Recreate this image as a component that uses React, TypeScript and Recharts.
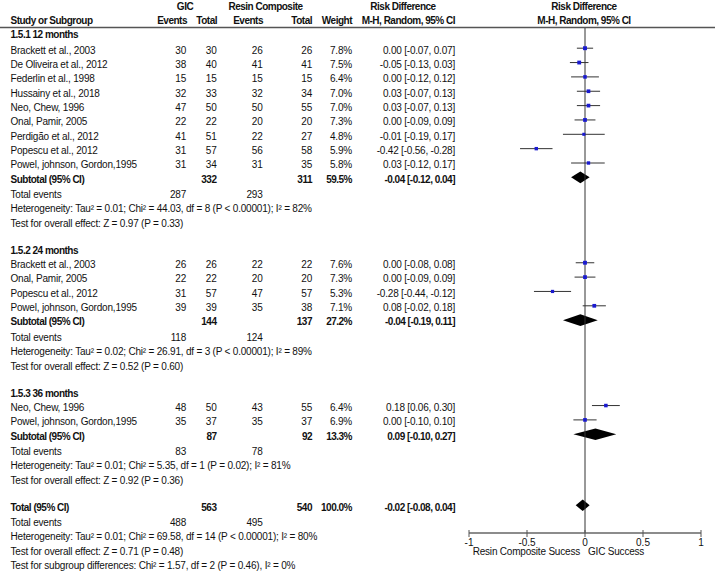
import React from "react";
import {
  ScatterChart,
  Scatter,
  XAxis,
  YAxis,
  ReferenceLine,
  ReferenceArea,
  Customized,
} from "recharts";

// study rows
const studyNames = [
  "Brackett et al., 2003",
  "De Oliveira et al., 2012",
  "Federlin et al., 1998",
  "Hussainy et al., 2018",
  "Neo, Chew, 1996",
  "Onal, Pamir, 2005",
  "Perdigão et al., 2012",
  "Popescu et al., 2012",
  "Powel, johnson, Gordon,1995",
  "Brackett et al., 2003",
  "Onal, Pamir, 2005",
  "Popescu et al., 2012",
  "Powel, johnson, Gordon,1995",
  "Neo, Chew, 1996",
  "Powel, johnson, Gordon,1995",
];
const studyGroup = [0, 0, 0, 0, 0, 0, 0, 0, 0, 1, 1, 1, 1, 2, 2];
const gicEvents = [30, 38, 15, 32, 47, 22, 41, 31, 31, 26, 22, 31, 39, 48, 35];
const gicTotal = [30, 40, 15, 33, 50, 22, 51, 57, 34, 26, 22, 57, 39, 50, 37];
const rcEvents = [26, 41, 15, 32, 50, 20, 22, 56, 31, 22, 20, 47, 35, 43, 35];
const rcTotal = [26, 41, 15, 34, 55, 20, 27, 58, 35, 22, 20, 57, 38, 55, 37];
const weightPct = [7.8, 7.5, 6.4, 7.0, 7.0, 7.3, 4.8, 5.9, 5.8, 7.6, 7.3, 5.3, 7.1, 6.4, 6.9];
const rdEst = [0.0, -0.05, 0.0, 0.03, 0.03, 0.0, -0.01, -0.42, 0.03, 0.0, 0.0, -0.28, 0.08, 0.18, 0.0];
const rdLow = [-0.07, -0.13, -0.12, -0.07, -0.07, -0.09, -0.19, -0.56, -0.12, -0.08, -0.09, -0.44, -0.02, 0.06, -0.1];
const rdHigh = [0.07, 0.03, 0.12, 0.13, 0.13, 0.09, 0.17, -0.28, 0.17, 0.08, 0.09, -0.12, 0.18, 0.3, 0.1];

// subgroups
const groupTitles = ["1.5.1 12 months", "1.5.2 24 months", "1.5.3 36 months"];
const subGicTotal = [332, 144, 87];
const subRcTotal = [311, 137, 92];
const subWeight = [59.5, 27.2, 13.3];
const subEst = [-0.04, -0.04, 0.09];
const subLow = [-0.12, -0.19, -0.1];
const subHigh = [0.04, 0.11, 0.27];
const subGicEvents = [287, 118, 83];
const subRcEvents = [293, 124, 78];
const subHeterogeneity = [
  "Heterogeneity: Tau² = 0.01; Chi² = 44.03, df = 8 (P < 0.00001); I² = 82%",
  "Heterogeneity: Tau² = 0.02; Chi² = 26.91, df = 3 (P < 0.00001); I² = 89%",
  "Heterogeneity: Tau² = 0.01; Chi² = 5.35, df = 1 (P = 0.02); I² = 81%",
];
const subOverall = [
  "Test for overall effect: Z = 0.97 (P = 0.33)",
  "Test for overall effect: Z = 0.52 (P = 0.60)",
  "Test for overall effect: Z = 0.92 (P = 0.36)",
];

// overall
const totalGicTotal = 563;
const totalRcTotal = 540;
const totalWeight = 100.0;
const totalEst = -0.02;
const totalLow = -0.08;
const totalHigh = 0.04;
const totalGicEvents = 488;
const totalRcEvents = 495;
const totalNotes = [
  "Heterogeneity: Tau² = 0.01; Chi² = 69.58, df = 14 (P < 0.00001); I² = 80%",
  "Test for overall effect: Z = 0.71 (P = 0.48)",
  "Test for subgroup differences: Chi² = 1.57, df = 2 (P = 0.46), I² = 0%",
];

const xTicks = [-1, -0.5, 0, 0.5, 1];

const W = 715;
const H = 571;
const AXIS_Y = 533;
const PITCH = 14.35;
const MARK_SHIFT = -1.8;
const FONT = "'Liberation Sans', Arial, sans-serif";

// column anchors
const NAME_X = 10.5;
const GIC_EV = 186;
const GIC_TOT = 216.5;
const RC_EV = 262.5;
const RC_TOT = 312;
const WEIGHT_X = 352;
const RD_X = 455;

const fmt = (v: number) => v.toFixed(2);
const ciText = (e: number, l: number, h: number) => `${fmt(e)} [${fmt(l)}, ${fmt(h)}]`;

type Line = { kind: string; y: number; i?: number; g?: number; text?: string };

// walk down the rows
const lines: Line[] = [];
{
  let y = 34.5;
  groupTitles.forEach((title, g) => {
    lines.push({ kind: "heading", y, text: title });
    y += g === 0 ? 15.5 : PITCH;
    studyNames.forEach((_, i) => {
      if (studyGroup[i] === g) {
        lines.push({ kind: "study", y, i });
        y += PITCH;
      }
    });
    lines.push({ kind: "subtotal", y, g });
    y += PITCH + 1;
    lines.push({ kind: "events", y, g });
    y += PITCH;
    lines.push({ kind: "note", y, text: subHeterogeneity[g] });
    y += PITCH;
    lines.push({ kind: "note", y, text: subOverall[g] });
    y += 27;
  });
  lines.push({ kind: "total", y });
  y += PITCH + 1;
  lines.push({ kind: "totalEvents", y });
  totalNotes.forEach((t) => {
    y += PITCH;
    lines.push({ kind: "note", y, text: t });
  });
}

const points = lines
  .filter((l) => l.kind === "study")
  .map((l) => ({
    rd: rdEst[l.i!],
    lo: rdLow[l.i!],
    hi: rdHigh[l.i!],
    w: weightPct[l.i!],
    y: l.y + MARK_SHIFT,
  }));

const diamonds = [
  ...lines
    .filter((l) => l.kind === "subtotal")
    .map((l) => ({ est: subEst[l.g!], lo: subLow[l.g!], hi: subHigh[l.g!], y: l.y + MARK_SHIFT })),
  ...lines
    .filter((l) => l.kind === "total")
    .map((l) => ({ est: totalEst, lo: totalLow, hi: totalHigh, y: l.y + MARK_SHIFT })),
];

// the original uses a narrow face, so squeeze the letters a bit
const T = (p: any) => (
  <text
    fontFamily={FONT}
    fontSize={10}
    fill="#111"
    dy="0.35em"
    letterSpacing={p.fontWeight === "bold" ? -0.5 : -0.2}
    {...p}
  />
);

const TextLayer = () => {
  const rows: React.ReactNode[] = [];
  lines.forEach((l, k) => {
    const y = l.y;
    if (l.kind === "heading") {
      rows.push(<T key={k} x={NAME_X} y={y} fontWeight="bold">{l.text}</T>);
    } else if (l.kind === "study") {
      const i = l.i!;
      rows.push(
        <g key={k}>
          <T x={NAME_X} y={y}>{studyNames[i]}</T>
          <T x={GIC_EV} y={y} textAnchor="end">{gicEvents[i]}</T>
          <T x={GIC_TOT} y={y} textAnchor="end">{gicTotal[i]}</T>
          <T x={RC_EV} y={y} textAnchor="end">{rcEvents[i]}</T>
          <T x={RC_TOT} y={y} textAnchor="end">{rcTotal[i]}</T>
          <T x={WEIGHT_X} y={y} textAnchor="end">{weightPct[i].toFixed(1)}%</T>
          <T x={RD_X} y={y} textAnchor="end">{ciText(rdEst[i], rdLow[i], rdHigh[i])}</T>
        </g>
      );
    } else if (l.kind === "subtotal" || l.kind === "total") {
      const g = l.g!;
      const isT = l.kind === "total";
      rows.push(
        <g key={k}>
          <T x={NAME_X} y={y} fontWeight="bold">{isT ? "Total (95% CI)" : "Subtotal (95% CI)"}</T>
          <T x={GIC_TOT} y={y} textAnchor="end" fontWeight="bold">{isT ? totalGicTotal : subGicTotal[g]}</T>
          <T x={RC_TOT} y={y} textAnchor="end" fontWeight="bold">{isT ? totalRcTotal : subRcTotal[g]}</T>
          <T x={WEIGHT_X} y={y} textAnchor="end" fontWeight="bold">
            {(isT ? totalWeight : subWeight[g]).toFixed(1)}%
          </T>
          <T x={RD_X} y={y} textAnchor="end" fontWeight="bold">
            {isT ? ciText(totalEst, totalLow, totalHigh) : ciText(subEst[g], subLow[g], subHigh[g])}
          </T>
        </g>
      );
    } else if (l.kind === "events" || l.kind === "totalEvents") {
      const isT = l.kind === "totalEvents";
      rows.push(
        <g key={k}>
          <T x={NAME_X} y={y}>Total events</T>
          <T x={GIC_EV} y={y} textAnchor="end">{isT ? totalGicEvents : subGicEvents[l.g!]}</T>
          <T x={RC_EV} y={y} textAnchor="end">{isT ? totalRcEvents : subRcEvents[l.g!]}</T>
        </g>
      );
    } else {
      rows.push(<T key={k} x={NAME_X} y={y}>{l.text}</T>);
    }
  });

  return (
    <g>
      {/* header */}
      <T x={185} y={6.5} textAnchor="middle" fontWeight="bold">GIC</T>
      <T x={265.5} y={6.5} textAnchor="middle" fontWeight="bold">Resin Composite</T>
      <T x={403} y={6.5} textAnchor="middle" fontWeight="bold">Risk Difference</T>
      <T x={584} y={6.5} textAnchor="middle" fontWeight="bold">Risk Difference</T>
      <T x={NAME_X} y={20.7} fontWeight="bold">Study or Subgroup</T>
      <T x={GIC_EV + 1} y={20.7} textAnchor="end" fontWeight="bold">Events</T>
      <T x={GIC_TOT + 0.5} y={20.7} textAnchor="end" fontWeight="bold">Total</T>
      <T x={RC_EV + 0.5} y={20.7} textAnchor="end" fontWeight="bold">Events</T>
      <T x={RC_TOT} y={20.7} textAnchor="end" fontWeight="bold">Total</T>
      <T x={WEIGHT_X} y={20.7} textAnchor="end" fontWeight="bold">Weight</T>
      <T x={RD_X} y={20.7} textAnchor="end" fontWeight="bold">M-H, Random, 95% CI</T>
      <T x={584} y={20.7} textAnchor="middle" fontWeight="bold">M-H, Random, 95% CI</T>
      <line x1={0} x2={W} y1={27.5} y2={27.5} stroke="#555" strokeWidth={1.3} />
      {rows}
      <T x={580} y={551.7} textAnchor="end">Resin Composite Sucess</T>
      <T x={588} y={551.7}>GIC Success</T>
    </g>
  );
};

const AxisTick = (p: any) => {
  const { x, y, payload } = p;
  return (
    <g>
      <line x1={x} x2={x} y1={y - 3} y2={y + 4} stroke="#555" />
      <text x={x} y={y + 9} dy="0.35em" textAnchor="middle" fontFamily={FONT} fontSize={10} fill="#111">
        {String(payload.value)}
      </text>
    </g>
  );
};

const Square = (p: any) => {
  const s = Math.sqrt(p.payload.w) * 1.4;
  return <rect x={p.cx - s / 2} y={p.cy - s / 2} width={s} height={s} fill="#1a1ad0" />;
};

const diamondShape = (frac: number) => (p: any) => {
  const x = Math.min(p.x, p.x + p.width);
  const w = Math.abs(p.width);
  const y = Math.min(p.y, p.y + p.height);
  const h = Math.abs(p.height);
  const px = x + w * frac;
  return (
    <polygon
      points={`${x},${y + h / 2} ${px},${y} ${x + w},${y + h / 2} ${px},${y + h}`}
      fill="#000"
    />
  );
};

export default function App() {
  return (
    <div style={{ position: "absolute", left: 0, top: 0, background: "#fff" }}>
      <ScatterChart
        width={W}
        height={H}
        margin={{ top: 0, right: 14, bottom: H - AXIS_Y - 30, left: 469 }}
      >
        <XAxis
          type="number"
          dataKey="rd"
          domain={[-1, 1]}
          ticks={xTicks}
          interval={0}
          tickSize={0}
          tickMargin={0}
          height={30}
          tick={<AxisTick />}
          axisLine={{ stroke: "#666", strokeWidth: 1.5 }}
        />
        <YAxis type="number" dataKey="y" domain={[0, AXIS_Y]} reversed hide />
        <ReferenceLine
          segment={[
            { x: 0, y: 28 },
            { x: 0, y: AXIS_Y },
          ]}
          stroke="#333"
        />
        {points.map((p, k) => (
          <ReferenceLine
            key={`ci${k}`}
            segment={[
              { x: p.lo, y: p.y },
              { x: p.hi, y: p.y },
            ]}
            stroke="#333"
          />
        ))}
        {diamonds.map((d, k) => (
          <ReferenceArea
            key={`d${k}`}
            x1={d.lo}
            x2={d.hi}
            y1={d.y - 5.8}
            y2={d.y + 5.8}
            shape={diamondShape((d.est - d.lo) / (d.hi - d.lo))}
          />
        ))}
        <Scatter data={points} shape={<Square />} isAnimationActive={false} />
        <Customized component={TextLayer} />
      </ScatterChart>
    </div>
  );
}
